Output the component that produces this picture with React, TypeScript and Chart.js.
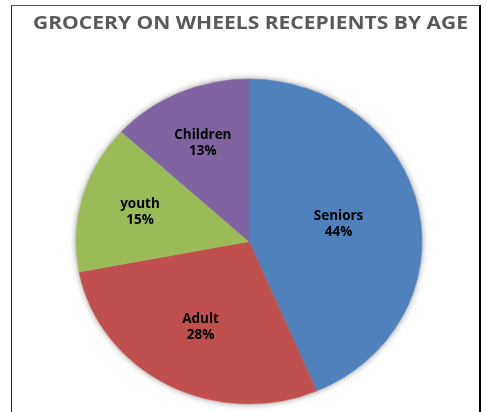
import React, { useEffect, useRef } from "react";
import { Chart, registerables } from "chart.js";

Chart.register(...registerables);

const title = "GROCERY ON WHEELS RECEPIENTS BY AGE";
const categories = ["Seniors", "Adult", "youth", "Children"];
const values = [43.6, 28.4, 14.8, 13.2];
const colors = ["#4F81BD", "#C0504D", "#9BBB59", "#8064A2"];

const W = 487;
const H = 412;
const CX = 249;
const CY = 241.5;
const RY = 162.5;
const RX = 173;
const SX = RX / RY;

const piePlugin = {
  id: "excelPie",
  beforeDatasetsDraw(chart: any) {
    const ctx = chart.ctx;
    const arc = chart.getDatasetMeta(0).data[0];
    const x = arc.x;
    const y = arc.y;
    ctx.save();
    ctx.translate(x, y);
    ctx.scale(SX, 1);
    ctx.translate(-x, -y);
    ctx.save();
    ctx.shadowColor = "rgba(0,0,0,0.45)";
    ctx.shadowBlur = 6;
    ctx.beginPath();
    ctx.arc(x, y, arc.outerRadius, 0, Math.PI * 2);
    ctx.fillStyle = "#ffffff";
    ctx.fill();
    ctx.restore();
  },
  afterDatasetsDraw(chart: any) {
    chart.ctx.restore();
  },
  afterDraw(chart: any) {
    const ctx = chart.ctx;
    const meta = chart.getDatasetMeta(0);
    const total = values.reduce((a, b) => a + b, 0);
    ctx.save();
    ctx.fillStyle = "#000000";
    ctx.textAlign = "center";
    ctx.textBaseline = "middle";
    ctx.font = "bold 13.5px 'Open Sans'";
    meta.data.forEach((arc: any, i: number) => {
      const p = arc.getProps(["startAngle", "endAngle", "outerRadius", "x", "y"], true);
      const mid = (p.startAngle + p.endAngle) / 2;
      const f = values[i] / total;
      const r = p.outerRadius * (0.72 - 0.44 * f);
      const lx = p.x + Math.cos(mid) * r * SX;
      const ly = p.y + Math.sin(mid) * r;
      const pct = Math.round(f * 100) + "%";
      ctx.fillText(categories[i], lx, ly - 8);
      ctx.fillText(pct, lx, ly + 8);
    });
    ctx.restore();

    // title
    ctx.save();
    ctx.font = "bold 17px 'Open Sans'";
    ctx.fillStyle = "#595959";
    ctx.textAlign = "center";
    ctx.textBaseline = "alphabetic";
    const w = ctx.measureText(title).width;
    const tx = 250.5;
    ctx.translate(tx, 28.7);
    ctx.scale(435 / w, 1);
    ctx.fillText(title, 0, 0);
    ctx.restore();
  },
};

export default function App() {
  const ref = useRef<HTMLCanvasElement | null>(null);
  useEffect(() => {
    if (!ref.current) return;
    const chart = new Chart(ref.current, {
      type: "pie",
      data: {
        labels: categories,
        datasets: [
          {
            data: values,
            backgroundColor: colors,
            borderColor: colors,
            borderWidth: 0.5,
            radius: RY,
            clip: false,
          } as any,
        ],
      },
      options: {
        responsive: false,
        animation: false,
        devicePixelRatio: 1,
        events: [],
        layout: {
          padding: {
            left: CX - RY,
            right: W - CX - RY,
            top: CY - RY,
            bottom: H - CY - RY,
          },
        },
        plugins: {
          legend: { display: false },
          tooltip: { enabled: false },
          title: { display: false },
        },
      } as any,
      plugins: [piePlugin as any],
    });
    return () => chart.destroy();
  }, []);

  return (
    <div
      style={{
        position: "fixed",
        left: 0,
        top: 0,
        width: W,
        height: H,
        background: "#ffffff",
        overflow: "hidden",
      }}
    >
      <div
        style={{
          position: "absolute",
          left: 11,
          top: 5,
          width: 470,
          height: 420,
          boxSizing: "border-box",
          borderLeft: "1px solid #222222",
          borderTop: "1px solid #555555",
          borderRight: "2px solid #000000",
        }}
      />
      <canvas
        ref={ref}
        width={W}
        height={H}
        style={{ position: "absolute", left: 0, top: 0 }}
      />
    </div>
  );
}
